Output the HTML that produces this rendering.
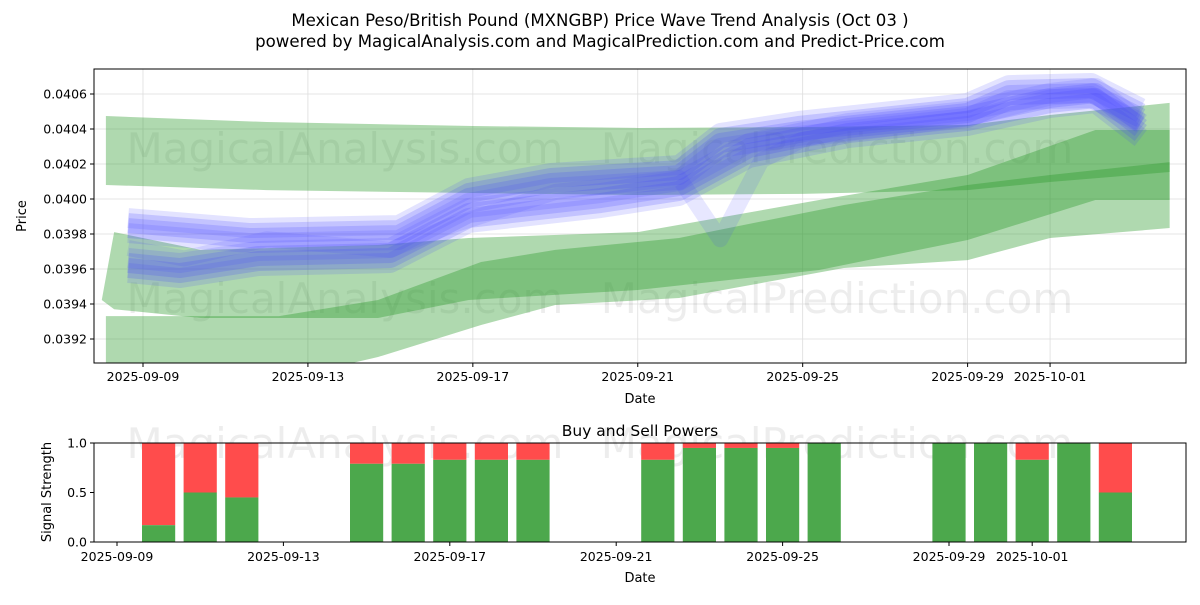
<!DOCTYPE html>
<html><head><meta charset="utf-8"><style>
body{margin:0;background:#fff;font-family:"Liberation Sans","DejaVu Sans",sans-serif}
svg text{font-family:"DejaVu Sans","Liberation Sans",sans-serif}
</style></head><body>
<svg id="c" width="1200" height="600" xmlns="http://www.w3.org/2000/svg"></svg>
<script>
// ---- data ----
const tickDatesTop=["2025-09-09","2025-09-13","2025-09-17","2025-09-21","2025-09-25","2025-09-29","2025-10-01"];
const tickDaysTop=[0,4,8,12,16,20,22];
const priceTicks=[0.0392,0.0394,0.0396,0.0398,0.0400,0.0402,0.0404,0.0406];
const bandADays=[-0.9,3,8,12,16,20,22,24.9];
const bandATop=[0.040474,0.04044,0.040417,0.040406,0.040411,0.040423,0.04048,0.040549];
const bandABot=[0.04008,0.040051,0.040034,0.040023,0.040029,0.040051,0.040097,0.040154];
const bandBDays=[-1.0,-0.7,1.4,5.7,7.9,12,16.4,20,23.1,24.9];
const bandBTop=[0.039423,0.039811,0.039709,0.039737,0.039777,0.039811,0.039994,0.040137,0.040394,0.040394];
const bandBBot=[0.039423,0.03937,0.03932,0.03932,0.039423,0.03948,0.039594,0.039766,0.039994,0.039994];
const bandCDays=[-0.9,3.3,5.7,8.2,10,13,17,20,22,24.9];
const bandCTop=[0.039331,0.039331,0.039423,0.03964,0.039709,0.039777,0.039966,0.04008,0.040137,0.040211];
const bandCBot=[0.038966,0.038966,0.039097,0.03928,0.039394,0.039434,0.039606,0.039651,0.039777,0.039834];
const blueUDays=[-0.36,2.6,6.2,7.9,9.9,13,14,15.9,20,21,23,24.2];
const blueU=[0.039851,0.039794,0.039811,0.040023,0.040109,0.040154,0.040337,0.040406,0.040509,0.040611,0.040623,0.04048];
const blueLDays=[-0.36,0.9,2.8,6,7.9,11.1,13,14.7,17.1,20,22,23.1,24.2];
const blueL=[0.039623,0.039594,0.039663,0.03968,0.039909,0.039994,0.040063,0.04028,0.040394,0.040463,0.040566,0.040594,0.040394];
const blueMDays=[-0.36,1,3,6,7.5,10,13,14,15,16,20,22,23,24.2];
const blueM=[0.03972,0.03966,0.03977,0.03971,0.03985,0.04004,0.04012,0.03977,0.04022,0.04034,0.04046,0.04058,0.04060,0.04043];
const barDays=[1,2,3,6,7,8,9,10,13,14,15,16,17,20,21,22,23,24];
const buyVals=[0.17,0.5,0.45,0.79,0.79,0.83,0.83,0.83,0.83,0.95,0.95,0.95,1.0,1.0,1.0,0.83,1.0,0.5];
const powerTicks=[0.0,0.5,1.0];
// ---- axes ----
const NS="http://www.w3.org/2000/svg";const svg=document.getElementById('c');
const xT=d=>143+d*41.23, yT=v=>94+(0.0406-v)/0.001*175;
const xB=d=>117+d*41.6, yB=v=>542-v*99;
function el(t,a,p){const e=document.createElementNS(NS,t);for(const k in a)e.setAttribute(k,a[k]);(p||svg).appendChild(e);return e;}
function txt(s,a){const e=el('text',a);e.textContent=s;return e;}
let t=txt('Mexican Peso/British Pound (MXNGBP) Price Wave Trend Analysis (Oct 03 )',{x:600,y:26,'text-anchor':'middle','font-size':16.6});

t=txt('powered by MagicalAnalysis.com and MagicalPrediction.com and Predict-Price.com',{x:600,y:47,'text-anchor':'middle','font-size':16.6});

const defs=el('defs',{});const cp=el('clipPath',{id:'cp'},defs);el('rect',{x:94,y:69,width:1092,height:294},cp);
tickDaysTop.forEach(d=>{const l=el('line',{x1:xT(d),x2:xT(d),y1:69,y2:363,stroke:'#ddd','stroke-width':0.8});});
priceTicks.forEach(v=>{const l=el('line',{x1:94,x2:1186,y1:yT(v),y2:yT(v),stroke:'#ddd','stroke-width':0.8});});
[[345,163],[345,313],[837,163],[837,313]].forEach((p,i)=>{const w=txt(i<2?'MagicalAnalysis.com':'MagicalPrediction.com',{x:p[0],y:p[1],'text-anchor':'middle','font-size':42,fill:'#000','fill-opacity':0.07});});
const g=el('g',{'clip-path':'url(#cp)'});
function band(days,top,bot,name){let pts=days.map((d,i)=>xT(d)+','+yT(top[i]));for(let i=days.length-1;i>=0;i--)pts.push(xT(days[i])+','+yT(bot[i]));const p=el('polygon',{points:pts.join(' '),fill:'#2e9a2e','fill-opacity':0.38},g);}
band(bandADays,bandATop,bandABot,'green-band-upper');
band(bandBDays,bandBTop,bandBBot,'green-band-middle');
band(bandCDays,bandCTop,bandCBot,'green-band-lower');
function strand(days,vals,w,op,name,dy){const p=el('polyline',{points:days.map((d,i)=>xT(d)+','+(yT(vals[i])+dy)).join(' '),fill:'none',stroke:'#4444ff','stroke-opacity':op,'stroke-width':w,'stroke-linejoin':'round'},g);}
[[-7,0.15],[-2,0.2],[3,0.2],[8,0.15]].forEach(o=>{strand(blueUDays,blueU,20,o[1],'blue-wave-upper',o[0]);strand(blueLDays,blueL,20,o[1],'blue-wave-lower',o[0]);});
strand(blueMDays,blueM,16,0.13,'blue-wave-mid',0);
let r=el('rect',{x:94,y:69,width:1092,height:294,fill:'none',stroke:'#000','stroke-width':1});
tickDaysTop.forEach((d,i)=>{el('line',{x1:xT(d),x2:xT(d),y1:363,y2:367,stroke:'#000'});const e=txt(tickDatesTop[i],{x:xT(d),y:381,'text-anchor':'middle','font-size':12.5});});
priceTicks.forEach(v=>{el('line',{x1:90,x2:94,y1:yT(v),y2:yT(v),stroke:'#000'});const e=txt(v.toFixed(4),{x:87,y:yT(v)+4.5,'text-anchor':'end','font-size':12.5});});
t=txt('Date',{x:640,y:403,'text-anchor':'middle','font-size':13});
t=txt('Price',{x:26,y:216,'text-anchor':'middle','font-size':13,transform:'rotate(-90 26 216)'});
t=txt('Buy and Sell Powers',{x:640,y:436,'text-anchor':'middle','font-size':15.5});
[[345,458],[837,458]].forEach((p,i)=>{const w=txt(i==0?'MagicalAnalysis.com':'MagicalPrediction.com',{x:p[0],y:p[1],'text-anchor':'middle','font-size':42,fill:'#000','fill-opacity':0.07});});
barDays.forEach((d,i)=>{const x=xB(d)-16.6;const s=el('rect',{x:x,y:yB(1),width:33.2,height:yB(buyVals[i])-yB(1),fill:'#ff4c4c'});const b=el('rect',{x:x,y:yB(buyVals[i]),width:33.2,height:yB(0)-yB(buyVals[i]),fill:'#4ca84c'});});
r=el('rect',{x:94,y:443,width:1092,height:99,fill:'none',stroke:'#000','stroke-width':1});
tickDaysTop.forEach((d,i)=>{el('line',{x1:xB(d),x2:xB(d),y1:542,y2:546,stroke:'#000'});const e=txt(tickDatesTop[i],{x:xB(d),y:561,'text-anchor':'middle','font-size':12.5});});
powerTicks.forEach(v=>{el('line',{x1:90,x2:94,y1:yB(v),y2:yB(v),stroke:'#000'});const e=txt(v.toFixed(1),{x:87,y:yB(v)+4.5,'text-anchor':'end','font-size':12.5});});
t=txt('Date',{x:640,y:582,'text-anchor':'middle','font-size':13});
t=txt('Signal Strength',{x:51,y:492,'text-anchor':'middle','font-size':13,transform:'rotate(-90 51 492)'});
</script>
</body></html>
